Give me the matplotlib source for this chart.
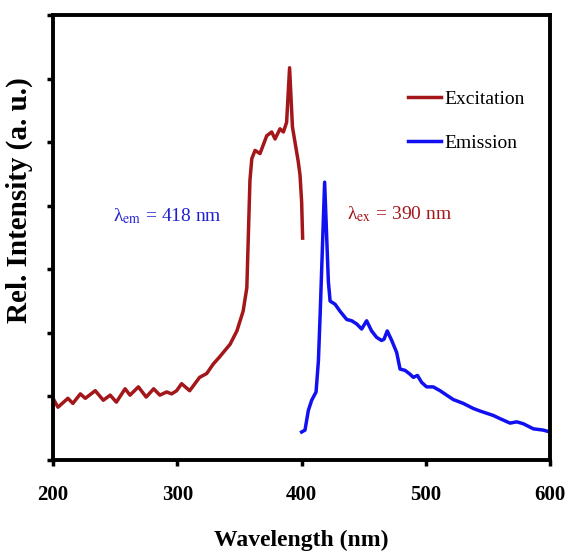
import matplotlib.pyplot as plt

plt.rcParams['font.family'] = ['Liberation Serif', 'DejaVu Serif']
plt.rcParams['mathtext.fontset'] = 'stix'

# Espectro de excitación (nm, u. a.)
ex_nm = [200, 204, 212, 216, 222, 226, 234, 240.5, 246, 251, 258, 262, 268.7, 275,
         281, 286, 291.5, 295.5, 299.5, 303.5, 310, 318, 323.7, 329, 334, 342.5, 348,
         353, 356, 358.5, 360, 362.6, 366.6, 372, 376, 378.7, 382.7, 385.4, 388,
         390.4, 392.7, 397.4, 398.8, 400.1, 400.9]
ex_int = [0.97, 0.83, 0.97, 0.89, 1.04, 0.97, 1.09, 0.94, 1.02, 0.91, 1.12, 1.02, 1.15,
          0.99, 1.12, 1.02, 1.07, 1.04, 1.09, 1.20, 1.09, 1.30, 1.36, 1.51, 1.62, 1.82,
          2.03, 2.34, 2.71, 4.40, 4.74, 4.87, 4.82, 5.10, 5.16, 5.05, 5.21, 5.16, 5.31,
          6.17, 5.24, 4.69, 4.48, 4.06, 3.49]

# Espectro de emisión (nm, u. a.)
em_nm = [400.1, 402.8, 405.5, 408.2, 411.7, 413.6, 415, 418.6, 421.6, 423, 427, 431,
         436.4, 440.4, 444.4, 448.4, 452.4, 456.4, 460.4, 464.4, 466.4, 469, 472.6,
         476.6, 479.3, 483.3, 487.3, 490, 493.3, 496.7, 500.7, 506, 511.5, 516.8,
         522.2, 530.2, 538.3, 543.7, 554.4, 559.8, 567.8, 573.2, 578.5, 586.6, 594.6,
         600]
em_int = [0.44, 0.47, 0.78, 0.94, 1.07, 1.56, 2.29, 4.37, 2.81, 2.50, 2.45, 2.34, 2.21,
          2.19, 2.14, 2.06, 2.19, 2.03, 1.93, 1.88, 1.90, 2.03, 1.88, 1.69, 1.43, 1.41,
          1.35, 1.30, 1.33, 1.22, 1.15, 1.15, 1.09, 1.02, 0.95, 0.89, 0.81, 0.77, 0.70,
          0.65, 0.58, 0.60, 0.57, 0.49, 0.47, 0.44]

rojo = '#a3161a'
azul = '#1010f0'

fig = plt.figure(figsize=(5.65, 5.52), dpi=100)
ax = fig.add_axes([0.0938, 0.1667, 0.8797, 0.8061])

ax.plot(ex_nm, ex_int, color=rojo, lw=2.5, label='Excitation')
ax.plot(em_nm, em_int, color=azul, lw=2.5, label='Emission')

ax.set_xlim(200, 600)
ax.set_ylim(0, 7)
ax.set_xticks([200, 300, 400, 500, 600])
ax.set_yticks(range(0, 8))
ax.set_yticklabels([])
ax.tick_params(direction='out', length=4, width=2.5, labelsize=15, pad=14)
for lab in ax.get_xticklabels():
    lab.set_fontweight('bold')
for s in ax.spines.values():
    s.set_linewidth(2.8)

ax.set_xlabel('Wavelength (nm)', fontsize=17, fontweight='bold', labelpad=18)
ax.set_ylabel('Rel. Intensity (a. u.)', fontsize=21, fontweight='bold')
ax.yaxis.set_label_coords(-0.04, 0.585)

ax.text(248, 3.83, r'λ$_{\rm em}$ = 418 nm', color='#2020d0', fontsize=14, va='center')
ax.text(437, 3.87, r'λ$_{\rm ex}$ = 390 nm', color=rojo, fontsize=14, va='center')

leg = ax.legend(loc='upper left', bbox_to_anchor=(0.715, 0.83), frameon=False,
                fontsize=14, handlelength=1.7, handletextpad=0.15, labelspacing=1.35,
                borderaxespad=0, borderpad=0)

fig.savefig('out.png', dpi=100)
